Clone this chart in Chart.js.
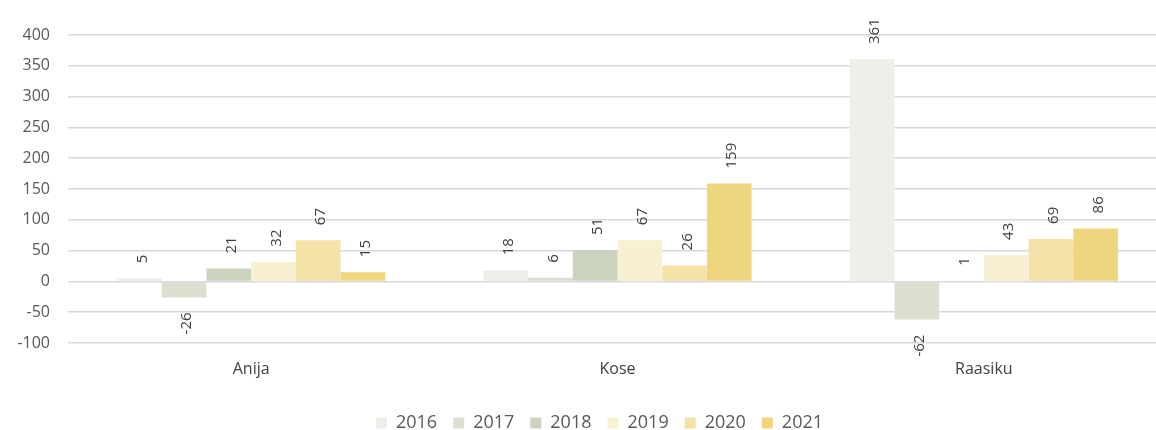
<!DOCTYPE html>
<html>
<head>
<meta charset="utf-8">
<script src="https://cdn.jsdelivr.net/npm/chart.js@4/dist/chart.umd.min.js"></script>
<style>
  html, body { margin: 0; padding: 0; background: #fff; overflow: hidden; }
  #wrap { width: 1170px; height: 430px; }
</style>
</head>
<body>
<div id="wrap"><canvas id="myChart" width="1170" height="430"></canvas></div>
<script>
const categories = ['Anija', 'Kose', 'Raasiku'];
const years = ['2016', '2017', '2018', '2019', '2020', '2021'];
const v2016 = [5, 18, 361];
const v2017 = [-26, 6, -62];
const v2018 = [21, 51, 1];
const v2019 = [32, 67, 43];
const v2020 = [67, 26, 69];
const v2021 = [15, 159, 86];
const yTicks = [-100, -50, 0, 50, 100, 150, 200, 250, 300, 350, 400];
const colors = ['#edefe8', '#dbe0d1', '#cbd3be', '#f8f0d3', '#f5e2a8', '#f0d57f'];
</script>
<script>
const series = [v2016, v2017, v2018, v2019, v2020, v2021];

// value labels turned on their side, just past the end of each bar
const barLabels = {
  id: 'barLabels',
  afterLayout(chart) {
    // nudge the legend a little to the right, like the original
    if (chart.legend) {
      chart.legend.left += 16;
      chart.legend.right += 16;
    }
  },
  afterDatasetsDraw(chart) {
    const ctx = chart.ctx;
    ctx.save();
    ctx.font = '15px "Open Sans"';
    ctx.fillStyle = '#404040';
    ctx.textBaseline = 'middle';
    chart.data.datasets.forEach((ds, i) => {
      const meta = chart.getDatasetMeta(i);
      meta.data.forEach((bar, j) => {
        const v = ds.data[j];
        if (v === null || v === undefined) return;
        ctx.save();
        ctx.translate(bar.x + 3, v >= 0 ? bar.y - 15 : bar.y + 15);
        ctx.rotate(-Math.PI / 2);
        ctx.textAlign = v >= 0 ? 'left' : 'right';
        ctx.fillText(String(v), 0, 0);
        ctx.restore();
      });
    });
    ctx.restore();
  }
};

new Chart(document.getElementById('myChart').getContext('2d'), {
  type: 'bar',
  data: {
    labels: categories,
    datasets: years.map((y, i) => ({
      label: y,
      data: series[i],
      backgroundColor: colors[i],
      borderWidth: 0
    }))
  },
  options: {
    responsive: false,
    animation: false,
    layout: { padding: { top: 35, right: 3, bottom: -12 } },
    datasets: {
      bar: { barPercentage: 1, categoryPercentage: 0.732 }
    },
    scales: {
      x: {
        grid: { display: false },
        border: { display: false },
        afterFit(scale) { scale.height = 55; },
        ticks: { color: '#404040', font: { family: 'Open Sans', size: 16 }, padding: 9 }
      },
      y: {
        min: -100,
        max: 400,
        afterBuildTicks(scale) { scale.ticks = yTicks.map(v => ({ value: v })); },
        afterFit(scale) { scale.width = 68; },
        grid: { color: '#d9d9d9', lineWidth: 1.5, drawTicks: false },
        border: { display: false },
        ticks: { color: '#595959', font: { family: 'Open Sans', size: 16 }, padding: 18 }
      }
    },
    plugins: {
      tooltip: { enabled: false },
      legend: {
        position: 'bottom',
        labels: {
          color: '#595959',
          font: { family: 'Open Sans', size: 18 },
          boxWidth: 11,
          boxHeight: 11,
          padding: 16
        }
      }
    }
  },
  plugins: [barLabels]
});
</script>
</body>
</html>
